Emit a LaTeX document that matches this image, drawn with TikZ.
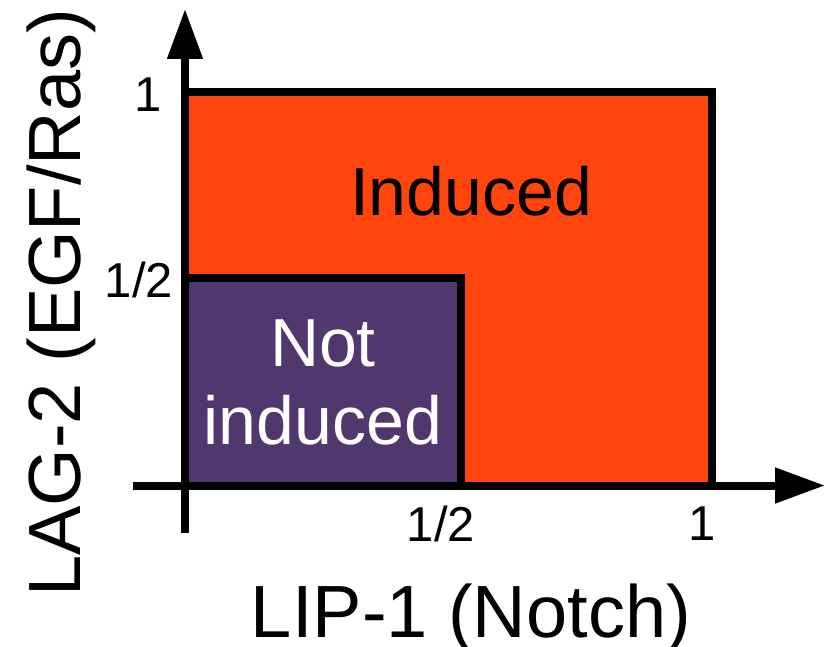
\documentclass[tikz,border=0pt]{standalone}
\usepackage{fontspec}
\setmainfont{Liberation Sans}
\usetikzlibrary{arrows.meta}
\definecolor{inducedorange}{RGB}{255,68,14}
\definecolor{notpurple}{RGB}{80,56,110}
\tikzset{
  region/.style={draw=black, line width=8pt, line join=miter},
  axisline/.style={draw=black, line width=8pt, -{Triangle[length=50pt,width=34pt]}},
  ticklabel/.style={anchor=base, inner sep=0pt, font=\fontsize{49}{56}\selectfont},
  axislabel/.style={anchor=base, inner sep=0pt, font=\fontsize{74}{85}\selectfont},
  regionlabel/.style={inner sep=0pt, align=center, font=\fontsize{68}{78}\selectfont}
}
\begin{document}
\begin{tikzpicture}[x=1pt,y=-1pt]
  \useasboundingbox (0,0) rectangle (827,647);
  % regions of the plane
  \filldraw[region, fill=inducedorange] (185,92.5) rectangle (711.5,485.5);
  \filldraw[region, fill=notpurple] (185,277.5) rectangle (460.5,485.5);
  % axes
  \coordinate (xstart) at (133,485.5);
  \coordinate (xend) at (825,485.5);
  \coordinate (ystart) at (185,533);
  \coordinate (yend) at (185,9);
  \draw[axisline] (xstart) -- (xend);
  \draw[axisline] (ystart) -- (yend);
  % region labels
  \node[regionlabel, text=black, anchor=base] (ind) at (471,215) {Induced};
  \node[regionlabel, text=white] (notind) at (323,382) {Not\\induced};
  % tick labels
  \node[ticklabel] (y1) at (148,112) {1};
  \node[ticklabel] (yhalf) at (139,297) {1/2};
  \node[ticklabel] (xhalf) at (441,541) {1/2};
  \node[ticklabel] (x1) at (702,540) {1};
  % axis titles
  \node[axislabel] (xtitle) at (471,637) {LIP-1 (Notch)};
  \node[axislabel, rotate=90] (ytitle) at (80,303) {LAG-2 (EGF/Ras)};
\end{tikzpicture}
\end{document}
